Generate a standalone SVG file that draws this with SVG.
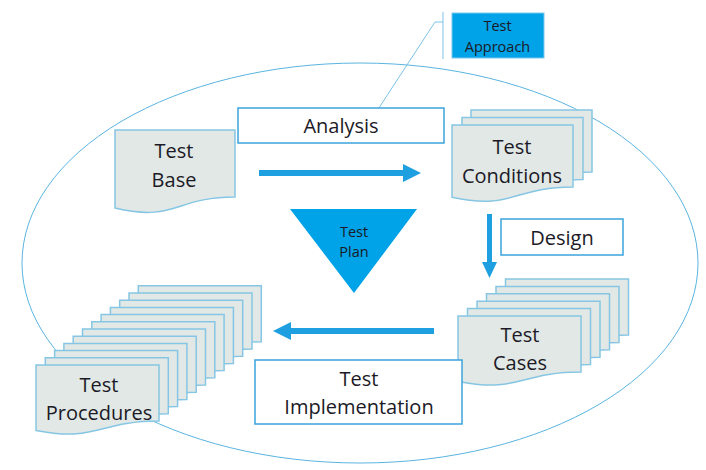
<svg xmlns="http://www.w3.org/2000/svg" width="706" height="470" viewBox="0 0 706 470">
<style>
.doc{fill:#e1e8e6;stroke:#86c6e4;stroke-width:1.5}
.lbl{fill:#ffffff;stroke:#3aa4dc;stroke-width:1.5}
.t{font-family:"Open Sans","Liberation Sans",sans-serif;font-size:20px;fill:#1c1a26;text-anchor:middle}
.s{font-family:"Open Sans","Liberation Sans",sans-serif;font-size:14.5px;fill:#1c1a26;text-anchor:middle}
.arr{fill:#1e9fe0}
</style>
<defs>
<path id="d121" d="M0,0 H121 V62 C60.5,62 60.5,85.5 0,72.2 Z"/>
<path id="d123" d="M0,0 H123 V56 C61.5,56 61.5,77.5 0,65.4 Z"/>
</defs>
<rect width="706" height="470" fill="#ffffff"/>
<ellipse id="scope" cx="360" cy="263" rx="338" ry="200" fill="none" stroke="#5ab4e0" stroke-width="1"/>

<g id="connectors">
<polyline points="443,22 435,22 373,117" fill="none" stroke="#7cc3e6" stroke-width="1"/>
<line x1="443" y1="12" x2="443" y2="59" stroke="#7cc3e6" stroke-width="1"/>
<path class="arr" d="M259,170 H403 V164 L421,173 L403,182 V176 H259 Z"/>
<path class="arr" d="M434,328 H291 V322 L273,331 L291,340 V334 H434 Z"/>
<path class="arr" d="M487,214 V262 H482 L489.5,278 L497,262 H492 V214 Z"/>
</g>

<g id="test-approach">
<rect x="452" y="13" width="92" height="45" fill="#00a2e8" stroke="#7cc8ee" stroke-width="1"/>
<text class="s" x="497.5" y="31">Test</text>
<text class="s" x="497.5" y="52">Approach</text>
</g>

<g id="analysis">
<rect class="lbl" x="238" y="108" width="206" height="35"/>
<text class="t" x="341" y="133">Analysis</text>
</g>

<g id="test-base">
<path class="doc" d="M115,130 H235 V197 C175,197 175,222.4 115,208 Z"/>
<text class="t" x="174" y="158">Test</text>
<text class="t" x="174" y="187">Base</text>
</g>

<g id="test-conditions">
<use href="#d121" class="doc" x="471" y="110"/>
<use href="#d121" class="doc" x="462" y="117.5"/>
<use href="#d121" class="doc" x="452" y="125"/>
<text class="t" x="512" y="154">Test</text>
<text class="t" x="512" y="183">Conditions</text>
</g>

<g id="test-plan">
<polygon points="290,209 417,209 354,293" fill="#00a2e8"/>
<text class="s" x="354" y="237">Test</text>
<text class="s" x="354" y="257">Plan</text>
</g>

<g id="design">
<rect class="lbl" x="501" y="219" width="122" height="36"/>
<text class="t" x="562" y="245">Design</text>
</g>

<g id="test-cases">
<use href="#d123" class="doc" x="505.5" y="279"/>
<use href="#d123" class="doc" x="496" y="286.4"/>
<use href="#d123" class="doc" x="486.5" y="293.8"/>
<use href="#d123" class="doc" x="477" y="301.2"/>
<use href="#d123" class="doc" x="467.5" y="308.6"/>
<use href="#d123" class="doc" x="458" y="316"/>
<text class="t" x="520" y="342">Test</text>
<text class="t" x="520" y="370">Cases</text>
</g>

<g id="test-implementation">
<rect class="lbl" x="255" y="360" width="207" height="64"/>
<text class="t" x="359" y="386">Test</text>
<text class="t" x="359" y="414">Implementation</text>
</g>

<g id="test-procedures">
<use href="#d123" class="doc" x="138.3" y="285.8"/>
<use href="#d123" class="doc" x="129" y="293"/>
<use href="#d123" class="doc" x="119.7" y="300.2"/>
<use href="#d123" class="doc" x="110.4" y="307.4"/>
<use href="#d123" class="doc" x="101.1" y="314.6"/>
<use href="#d123" class="doc" x="91.8" y="321.8"/>
<use href="#d123" class="doc" x="82.5" y="329"/>
<use href="#d123" class="doc" x="73.2" y="336.2"/>
<use href="#d123" class="doc" x="63.9" y="343.4"/>
<use href="#d123" class="doc" x="54.6" y="350.6"/>
<use href="#d123" class="doc" x="45.3" y="357.8"/>
<use href="#d123" class="doc" x="36" y="365"/>
<text class="t" x="99" y="392">Test</text>
<text class="t" x="99" y="420">Procedures</text>
</g>
</svg>
